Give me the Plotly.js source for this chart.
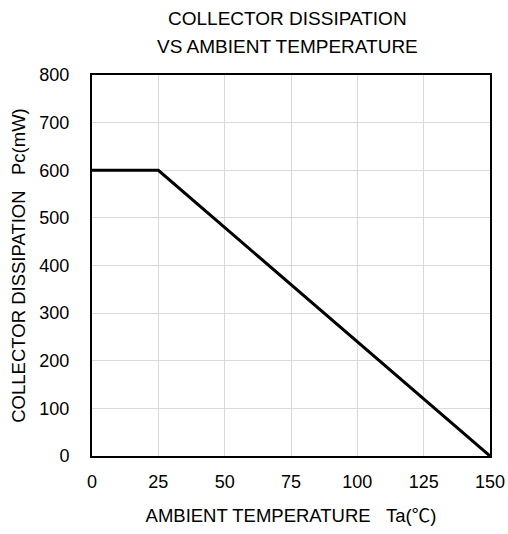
<!DOCTYPE html>
<html>
<head>
<meta charset="utf-8">
<script src="https://cdn.plot.ly/plotly-3.0.1.min.js"></script>
<style>html,body{margin:0;padding:0;background:#fff;}#chart{width:508px;height:534px;}</style>
</head>
<body>
<div id="chart"></div>
<script>
var temperature = [0, 25, 150];
var dissipation = [600, 600, 0];
var xTicks = [0, 25, 50, 75, 100, 125, 150];
var yTicks = [0, 100, 200, 300, 400, 500, 600, 700, 800];
var titleLines = ["COLLECTOR DISSIPATION", "VS AMBIENT TEMPERATURE"];
var xTitle = "AMBIENT TEMPERATURE\u00a0\u00a0\u00a0Ta(℃)";
var yTitle = "COLLECTOR DISSIPATION\u00a0\u00a0\u00a0Pc(mW)";

var fontFam = "Liberation Sans, Arial, Noto Sans CJK JP, sans-serif";

Plotly.newPlot("chart", [{
  x: temperature, y: dissipation, type: "scatter", mode: "lines",
  line: {color: "#000", width: 3}, hoverinfo: "skip"
}], {
  width: 508, height: 534,
  margin: {l: 92, r: 18, t: 75, b: 78},
  paper_bgcolor: "#fff", plot_bgcolor: "#fff",
  showlegend: false,
  font: {family: fontFam, size: 18, color: "#000"},
  annotations: [
    {text: titleLines[0], xref: "paper", yref: "paper", x: 0.49, y: 1.148,
     xanchor: "center", yanchor: "middle", showarrow: false, font: {size: 19}},
    {text: titleLines[1], xref: "paper", yref: "paper", x: 0.49, y: 1.076,
     xanchor: "center", yanchor: "middle", showarrow: false, font: {size: 19}}
  ],
  xaxis: {
    range: [0, 150], tickvals: xTicks, ticktext: xTicks.map(String),
    showgrid: true, gridcolor: "#d9d9d9", gridwidth: 1,
    showline: true, linecolor: "#000", linewidth: 2, mirror: true,
    ticks: "", zeroline: false, ticklabelstandoff: 8,
    tickfont: {size: 18},
    title: {text: xTitle, standoff: 18, font: {size: 18.5}}
  },
  yaxis: {
    range: [0, 800], tickvals: yTicks, ticktext: yTicks.map(String),
    showgrid: true, gridcolor: "#d9d9d9", gridwidth: 1,
    showline: true, linecolor: "#000", linewidth: 2, mirror: true,
    ticks: "", zeroline: false, ticklabelstandoff: 17,
    tickfont: {size: 18},
    title: {text: yTitle, standoff: 9, font: {size: 18.5}}
  }
}, {staticPlot: true});
</script>
</body>
</html>
